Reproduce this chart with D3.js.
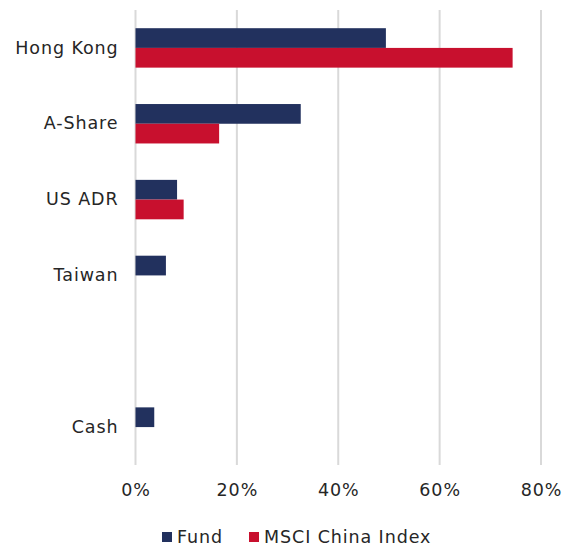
<!DOCTYPE html>
<html><head><meta charset="utf-8">
<script src="https://cdn.jsdelivr.net/npm/d3@7"></script>
<style>body{margin:0;background:#fff;} text{font-family:"DejaVu Sans",sans-serif;}</style>
</head><body><svg id="c" width="562" height="547"></svg>
<script>
const categories = ["Hong Kong","A-Share","US ADR","Taiwan"," ","Cash"];
const seriesNames = ["Fund","MSCI China Index"];
const fundValues = [49.4, 32.6, 8.2, 6.0, null, 3.7];
const msciValues = [74.4, 16.5, 9.5, null, null, null];
const xTicks = [0,20,40,60,80];
const colors = ["#22315e","#c8102e"];

const FONT = "'DejaVu Sans',sans-serif";
const FS = 17.5;
const LS = "0.9px";
const TXT = "#262626";
const svg = d3.select("#c");
const m = {left:135.5, right:21, top:10, bottom:82};
const W = 562, H = 547;
const x = d3.scaleLinear().domain([0,80]).range([m.left, W - m.right]);
const y = d3.scaleBand().domain(categories).range([m.top, H - m.bottom]).paddingInner(0.48).paddingOuter(0.24);
const sub = d3.scaleBand().domain(seriesNames).range([0, y.bandwidth()]);

svg.append("g").selectAll("line").data(xTicks).join("line")
  .attr("x1", d=>x(d)).attr("x2", d=>x(d))
  .attr("y1", m.top).attr("y2", H - m.bottom)
  .attr("stroke","#d9d9d9").attr("stroke-width",2);

const data = categories.map((c,i)=>({c, vals:[fundValues[i], msciValues[i]]}));
const g = svg.append("g");
data.forEach(d=>{
  d.vals.forEach((v,j)=>{
    if(v==null) return;
    g.append("rect").attr("x", x(0)).attr("y", y(d.c)+sub(seriesNames[j]))
     .attr("width", x(v)-x(0)).attr("height", sub.bandwidth())
     .attr("fill", colors[j]);
  });
});

const xAxis = d3.axisBottom(x).tickValues(xTicks).tickFormat(d=>d+"%").tickSize(0).tickPadding(0);
const xa = svg.append("g").attr("transform",`translate(0,${H - m.bottom})`).call(xAxis);
xa.select(".domain").remove();
xa.selectAll("text").attr("font-size",FS).attr("fill",TXT).attr("y",25).attr("dy","0.35em")
  .style("font-family",FONT).style("letter-spacing",LS);

const yAxis = d3.axisLeft(y).tickSize(0).tickPadding(17);
const ya = svg.append("g").attr("transform",`translate(${m.left},0)`).call(yAxis);
ya.select(".domain").remove();
ya.selectAll("text").attr("font-size",FS).attr("fill",TXT).style("font-family",FONT).style("letter-spacing",LS);

const leg = svg.append("g");
const lx = [162, 249];
seriesNames.forEach((s,i)=>{
  leg.append("rect").attr("x",lx[i]).attr("y",532).attr("width",10).attr("height",10).attr("fill",colors[i]);
  leg.append("text").attr("x",lx[i]+15).attr("y",537).attr("dy","0.35em").attr("font-size",FS).attr("fill",TXT)
    .style("font-family",FONT).style("letter-spacing",LS).text(s);
});
</script></body></html>
